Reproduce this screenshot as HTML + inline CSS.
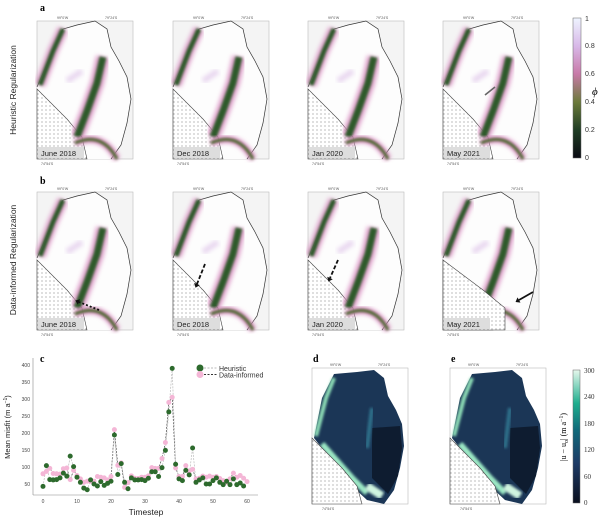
<!DOCTYPE html>
<html><head><meta charset="utf-8"><style>
body{margin:0;background:#fff}
svg{display:block;font-family:"Liberation Sans",sans-serif}
</style></head><body>
<svg id="s" width="600" height="521" viewBox="0 0 600 521" xmlns="http://www.w3.org/2000/svg">
<defs>
<pattern id="dots" width="4" height="4" patternUnits="userSpaceOnUse"><rect width="4" height="4" fill="#fff"/><circle cx="1" cy="1" r="0.5" fill="#555"/></pattern>
<filter id="bl" x="-20%" y="-20%" width="140%" height="140%"><feGaussianBlur stdDeviation="1.3"/></filter>
<filter id="bl2" x="-20%" y="-20%" width="140%" height="140%"><feGaussianBlur stdDeviation="2"/></filter>
<linearGradient id="phi" x1="0" y1="1" x2="0" y2="0">
<stop offset="0" stop-color="#0a0a12"/><stop offset="0.2" stop-color="#1f3d24"/><stop offset="0.4" stop-color="#6b7a3a"/><stop offset="0.6" stop-color="#c87aa8"/><stop offset="0.8" stop-color="#d8b8e8"/><stop offset="1" stop-color="#eef4ff"/></linearGradient>
<linearGradient id="mis" x1="0" y1="1" x2="0" y2="0">
<stop offset="0" stop-color="#0a0f1e"/><stop offset="0.3" stop-color="#1d3b66"/><stop offset="0.55" stop-color="#116a7a"/><stop offset="0.75" stop-color="#1fae8e"/><stop offset="1" stop-color="#e6f8ec"/></linearGradient>
<g id="mapA">
<rect x="0" y="0" width="96" height="138" fill="#f4f4f4" stroke="#bbb" stroke-width="0.6"/>
<path d="M0,66 L12,38 L26,8 L40,4 L58,0 L70,8 L74,26 L82,40 L90,56 L94,78 L90,102 L84,124 L74,138 L50,138 L0,138Z" fill="#fdfdfd" stroke="none"/>
<path d="M0,66 L12,38 L26,8 L40,4 L58,0 L70,8 L74,26 L82,40 L90,56 L94,78 L90,102 L84,124 L74,138" fill="none" stroke="#333" stroke-width="0.7"/>
<path d="M0,68 L30,98 L45,116 L50,138 L0,138Z" fill="url(#dots)" stroke="#444" stroke-width="0.6"/>
</g>
<g id="streakA">
<path d="M3,64 L16,30 L26,8" stroke="#d88bc0" stroke-width="11" fill="none" filter="url(#bl2)" opacity="0.8"/>
<path d="M3,64 L16,30 L26,8" stroke="#2d5a2a" stroke-width="5" fill="none" filter="url(#bl)"/>
<path d="M66,36 L60,62 L50,90 L40,116" stroke="#d88bc0" stroke-width="14" fill="none" filter="url(#bl2)" opacity="0.8"/>
<path d="M66,36 L60,62 L50,90 L40,116" stroke="#2e5a2c" stroke-width="7" fill="none" filter="url(#bl)"/>
<path d="M38,122 Q65,110 80,138" stroke="#d88bc0" stroke-width="7" fill="none" filter="url(#bl2)"/>
<path d="M38,122 Q65,110 80,138" stroke="#4d6b33" stroke-width="3" fill="none" filter="url(#bl)"/>
<path d="M30,60 L45,50" stroke="#e9d8f0" stroke-width="6" fill="none" filter="url(#bl2)"/>
</g>
<g id="mapD">
<rect x="0" y="0" width="96" height="136" fill="#fff" stroke="#bbb" stroke-width="0.6"/>
<path d="M2,70 L10,30 L22,6 L45,4 L62,2 L72,10 L76,28 L84,42 L90,56 L92,78 L88,100 L82,122 L72,136 L55,132 L40,118 L2,70Z" fill="#1b3656"/>
<path d="M60,60 L88,58 L90,80 L86,108 L76,126 L60,110Z" fill="#0e1c30"/>
<path d="M4,68 L14,30 L22,10" stroke="#8fe0b8" stroke-width="4" fill="none" filter="url(#bl)"/>
<path d="M10,76 L40,110 L55,125" stroke="#9be8c4" stroke-width="6" fill="none" filter="url(#bl)"/>
<path d="M55,118 L70,128" stroke="#d0f5e0" stroke-width="8" fill="none" filter="url(#bl)"/>
<path d="M60,40 L55,80" stroke="#2f6f8a" stroke-width="4" fill="none" filter="url(#bl)"/>
<path d="M0,70 L30,100 L45,118 L50,136 L0,136Z" fill="url(#dots)" stroke="#444" stroke-width="0.6"/>
</g>
</defs>
<text x="40" y="11" font-size="10" font-weight="bold" font-family="Liberation Serif">a</text>
<text x="40" y="184" font-size="10" font-weight="bold" font-family="Liberation Serif">b</text>
<text x="40" y="362" font-size="10" font-weight="bold" font-family="Liberation Serif">c</text>
<text x="313" y="362" font-size="10" font-weight="bold" font-family="Liberation Serif">d</text>
<text x="451" y="362" font-size="10" font-weight="bold" font-family="Liberation Serif">e</text>
<text transform="translate(16,90) rotate(-90)" text-anchor="middle" font-size="8.5" fill="#222">Heuristic Regularization</text>
<text transform="translate(16,260) rotate(-90)" text-anchor="middle" font-size="8.5" fill="#222">Data-informed Regularization</text>
<g id="maps"></g>
<rect x="573" y="18" width="8" height="140" fill="url(#phi)" stroke="#666" stroke-width="0.5"/>
<g font-size="7" fill="#333">
<text x="585" y="160">0</text><text x="585" y="132">0.2</text><text x="585" y="104">0.4</text><text x="585" y="76">0.6</text><text x="585" y="48">0.8</text><text x="585" y="21">1</text>
</g>
<text x="592" y="95" font-size="11" font-style="italic" font-family="Liberation Serif">ϕ</text>
<rect x="573" y="370" width="7" height="133" fill="url(#mis)" stroke="#666" stroke-width="0.5"/>
<g font-size="7" fill="#333" font-family="Liberation Serif">
<text x="584" y="505">0</text><text x="584" y="479">60</text><text x="584" y="452">120</text><text x="584" y="426">180</text><text x="584" y="399">240</text><text x="584" y="373">300</text>
</g>
<text transform="translate(566,437) rotate(-90)" text-anchor="middle" font-size="8" font-family="Liberation Serif">|u − u<tspan font-size="6" dy="2">o</tspan><tspan dy="-2">|  (m a</tspan><tspan font-size="6" dy="-3">−1</tspan><tspan dy="3">)</tspan></text>
<g id="chart" stroke="#888" stroke-width="0.6">
<line x1="33" y1="358" x2="33" y2="495"/><line x1="33" y1="495" x2="258" y2="495"/>
</g>
<text transform="translate(10,427) rotate(-90)" text-anchor="middle" font-size="7.5" fill="#222">Mean misfit (m a<tspan font-size="5" dy="-3">−1</tspan><tspan dy="3">)</tspan></text>
<text x="146" y="515" text-anchor="middle" font-size="8.5" fill="#222">Timestep</text>
<circle cx="200" cy="368" r="3.5" fill="#2d6a2d"/>
<line x1="204" y1="368" x2="218" y2="368" stroke="#bbb" stroke-dasharray="2,1.5"/>
<text x="219" y="371" font-size="7" fill="#333">Heuristic</text>
<circle cx="200" cy="374.5" r="3.5" fill="#f4b6d6"/>
<line x1="204" y1="374.5" x2="218" y2="374.5" stroke="#333" stroke-dasharray="2,1.5"/>
<text x="219" y="377.5" font-size="7" fill="#333">Data-informed</text>
</svg>
<script>
var NS="http://www.w3.org/2000/svg",s=document.getElementById('s');
function el(t,a,p,txt){var e=document.createElementNS(NS,t);for(var k in a)e.setAttribute(k,a[k]);if(txt!=null)e.textContent=txt;(p||s).appendChild(e);return e;}
var mg=document.getElementById('maps');
var xs=[37,173,308,443],lab=["June 2018","Dec 2018","Jan 2020","May 2021"];
var arrows=[[62,118,42,110],[32,72,24,92],[30,68,22,86],[90,100,76,108]];
[21,192].forEach(function(y,r){xs.forEach(function(x,i){
 var g=el('g',{transform:'translate('+x+','+y+')'},mg);
 el('use',{href:'#mapA'},g);
 el('use',{href:'#streakA'},g);
 if(r==1&&i==3){el('path',{d:'M0,68 L40,98 L62,116 L62,138 L0,138Z',fill:'url(#dots)',stroke:'#444','stroke-width':0.6},g);}
 if(r==0&&i==3){el('line',{x1:42,y1:74,x2:52,y2:66,stroke:'#666','stroke-width':1.6},g);}
 if(r==1){var a=arrows[i];el('line',{x1:a[0],y1:a[1],x2:a[2],y2:a[3],stroke:'#111','stroke-width':1.8,'stroke-dasharray':i==0?'2,2':(i==3?'none':'4,2')},g);
  var dx=a[2]-a[0],dy=a[3]-a[1],L=Math.hypot(dx,dy);dx/=L;dy/=L;
  el('polygon',{points:(a[2]+dx*4)+','+(a[3]+dy*4)+' '+(a[2]-dy*3)+','+(a[3]+dx*3)+' '+(a[2]+dy*3)+','+(a[3]-dx*3),fill:'#111'},g);}
 el('rect',{x:1,y:126,width:46,height:11,fill:'#ddd'},g);
 el('text',{x:4,y:135,'font-size':7.5,fill:'#222'},g,lab[i]);
 el('text',{x:20,y:-2,'font-size':3.5,fill:'#555'},g,"99°0'W");
 el('text',{x:68,y:-2,'font-size':3.5,fill:'#555'},g,"79°24'S");
 el('text',{x:4,y:144,'font-size':3.5,fill:'#555'},g,"74°54'S");
});});
[[312,368],[450,368]].forEach(function(p){var g=el('g',{transform:'translate('+p[0]+','+p[1]+')'});el('use',{href:'#mapD'},g);
 el('text',{x:18,y:-2,'font-size':3.5,fill:'#555'},g,"99°0'W");el('text',{x:66,y:-2,'font-size':3.5,fill:'#555'},g,"79°24'S");el('text',{x:10,y:142,'font-size':3.5,fill:'#555'},g,"74°54'S");});
var H=[43,104,63,62,63,68,82,73,132,101,70,55,38,33,62,50,44,57,46,52,58,194,78,110,55,36,68,62,62,63,60,67,86,86,72,98,149,262,390,108,65,60,90,77,156,55,62,68,50,50,60,68,55,48,58,48,65,48,53,44];
var D=[80,87,96,81,80,79,95,97,63,90,75,65,55,58,58,58,72,70,68,62,72,210,105,112,40,54,74,67,66,70,70,74,98,96,96,125,172,290,305,97,72,72,104,88,93,65,67,73,70,73,70,72,66,60,55,65,82,70,75,67,57];
function X(t){return 43+t*3.4}function Y(v){return 484-(v-50)*0.34}
var c=document.getElementById('chart');
[0,10,20,30,40,50,60].forEach(function(t){el('text',{x:X(t),y:503,'font-size':5,fill:'#444','text-anchor':'middle',stroke:'none'},c,t)});
[50,100,150,200,250,300,350,400].forEach(function(v){el('text',{x:30,y:Y(v)+2,'font-size':5,fill:'#444','text-anchor':'end',stroke:'none'},c,v)});
function pl(a,col,dash){el('polyline',{points:a.map(function(v,i){return X(i)+','+Y(v)}).join(' '),fill:'none',stroke:col,'stroke-width':0.7,'stroke-dasharray':dash},c)}
pl(D,'#444','2,1.2');pl(H,'#bbb','2,1.2');
D.forEach(function(v,i){el('circle',{cx:X(i),cy:Y(v),r:2.5,fill:'#f4b6d6',stroke:'none'},c)});
H.forEach(function(v,i){el('circle',{cx:X(i),cy:Y(v),r:2.5,fill:'#2d6a2d',stroke:'none'},c)});
</script>
</body></html>
